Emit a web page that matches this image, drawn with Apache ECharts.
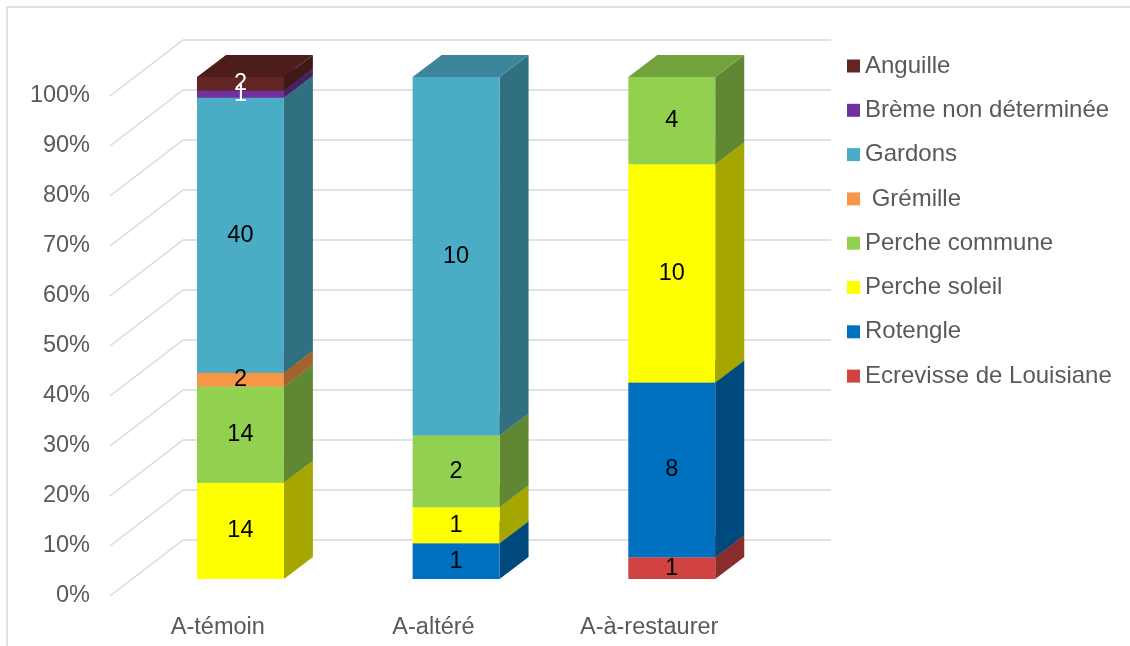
<!DOCTYPE html>
<html>
<head>
<meta charset="utf-8">
<script src="https://cdn.jsdelivr.net/npm/echarts@6/dist/echarts.min.js"></script>
<style>
  html, body { margin: 0; padding: 0; background: #fff; }
  #chart { width: 1130px; height: 646px; }
</style>
</head>
<body>
<div id="chart"></div>
<script>
// Sites sampled
const categories = ['A-témoin', 'A-altéré', 'A-à-restaurer'];

// Fish counts per site (stacking order: bottom to top)
const ecrevisse     = [0, 0, 1];
const rotengle      = [0, 1, 8];
const percheSoleil  = [14, 1, 10];
const percheCommune = [14, 2, 4];
const gremille      = [2, 0, 0];
const gardons       = [40, 10, 0];
const breme         = [1, 0, 0];
const anguille      = [2, 0, 0];

// Percent ticks on the value axis
const yTicks = [0, 10, 20, 30, 40, 50, 60, 70, 80, 90, 100];

const speciesList = [
  { name: 'Ecrevisse de Louisiane', values: ecrevisse,     color: '#D14343', label: '#000' },
  { name: 'Rotengle',               values: rotengle,      color: '#0070C0', label: '#000' },
  { name: 'Perche soleil',          values: percheSoleil,  color: '#FFFF00', label: '#000' },
  { name: 'Perche commune',         values: percheCommune, color: '#92D050', label: '#000' },
  { name: ' Grémille',              values: gremille,      color: '#F79646', label: '#000' },
  { name: 'Gardons',                values: gardons,       color: '#4BACC6', label: '#000' },
  { name: 'Brème non déterminée',   values: breme,         color: '#7030A0', label: '#fff' },
  { name: 'Anguille',               values: anguille,      color: '#632523', label: '#fff' }
];

const FONT = '"Liberation Sans", Arial, sans-serif';
const GRID_COLOR = '#D9D9D9';
const TEXT_COLOR = '#595959';
// oblique depth of a column and of the whole plot box
const BAR_DX = 29, BAR_DY = 22;
const WALL_DX = 73, WALL_DY = 56;

function shade(hex, k) {
  const n = parseInt(hex.slice(1), 16);
  const r = Math.round(((n >> 16) & 255) * k);
  const g = Math.round(((n >> 8) & 255) * k);
  const b = Math.round((n & 255) * k);
  return 'rgb(' + r + ',' + g + ',' + b + ')';
}

// totals per site, for the 100% stacking
const totals = categories.map((_, i) =>
  speciesList.reduce((s, sp) => s + sp.values[i], 0));

// cumulative percent ranges per species
const cum = categories.map(() => 0);
const stackRanges = speciesList.map(sp => {
  const rows = [];
  sp.values.forEach((v, i) => {
    const start = cum[i];
    const end = start + v / totals[i] * 100;
    cum[i] = end;
    if (v > 0) rows.push([i, start, end, v]);
  });
  return rows;
});

function columnRenderer(sp) {
  return function (params, api) {
    const cat = api.value(0);
    const lo = api.value(1);
    const hi = api.value(2);
    const val = api.value(3);
    const pBot = api.coord([cat, lo]);
    const pTop = api.coord([cat, hi]);
    const bw = api.size([1, 0])[0] * 0.403;
    const x0 = pBot[0] - bw / 2;
    const x1 = x0 + bw;
    const yb = pBot[1], yt = pTop[1];
    return {
      type: 'group',
      children: [
        {
          type: 'polygon',
          shape: { points: [[x1, yb], [x1 + BAR_DX, yb - BAR_DY], [x1 + BAR_DX, yt - BAR_DY], [x1, yt]] },
          style: { fill: shade(sp.color, 0.65) }
        },
        {
          type: 'polygon',
          shape: { points: [[x0, yt], [x1, yt], [x1 + BAR_DX, yt - BAR_DY], [x0 + BAR_DX, yt - BAR_DY]] },
          style: { fill: shade(sp.color, 0.78) }
        },
        {
          type: 'rect',
          shape: { x: x0, y: yt, width: bw, height: yb - yt },
          style: { fill: sp.color }
        },
        {
          type: 'text',
          x: (x0 + x1) / 2,
          y: (yt + yb) / 2,
          z2: 10,
          style: {
            text: String(val),
            fill: sp.label,
            font: '23.5px ' + FONT,
            align: 'center', verticalAlign: 'middle',
            textAlign: 'center', textVerticalAlign: 'middle'
          }
        }
      ]
    };
  };
}

const columnSeries = speciesList.map((sp, k) => ({
  type: 'custom',
  name: sp.name,
  xAxisIndex: 2,
  yAxisIndex: 2,
  itemStyle: { color: sp.color },
  data: stackRanges[k],
  encode: { x: 0, y: [1, 2] },
  renderItem: columnRenderer(sp),
  z: 5
}));

// receding lines on the side wall, one per tick
const wallSeries = {
  type: 'custom',
  xAxisIndex: 0,
  yAxisIndex: 0,
  silent: true,
  data: yTicks.map(t => [0, t]),
  encode: { x: 0, y: 1 },
  renderItem: function (params, api) {
    const y = api.coord([0, api.value(1)])[1];
    const x = params.coordSys.x;
    return {
      type: 'line',
      shape: { x1: x, y1: y, x2: x - WALL_DX, y2: y + WALL_DY },
      style: { stroke: GRID_COLOR, lineWidth: 1.5 }
    };
  },
  z: 1
};

const chart = echarts.init(document.getElementById('chart'), null, { renderer: 'canvas' });

chart.setOption({
  animation: false,
  backgroundColor: '#fff',
  textStyle: { fontFamily: FONT },
  graphic: [{
    type: 'rect',
    shape: { x: 7, y: 7, width: 1140, height: 660 },
    style: { fill: 'none', stroke: GRID_COLOR, lineWidth: 1.5 },
    silent: true
  }],
  legend: {
    orient: 'vertical',
    left: 842,
    top: 49,
    itemWidth: 13,
    itemHeight: 13,
    itemGap: 20.3,
    icon: 'rect',
    data: ['Anguille', 'Brème non déterminée', 'Gardons', ' Grémille',
           'Perche commune', 'Perche soleil', 'Rotengle', 'Ecrevisse de Louisiane'],
    textStyle: { color: TEXT_COLOR, fontSize: 24, lineHeight: 24, fontFamily: FONT }
  },
  grid: [
    // back wall
    { left: 183, top: 40, width: 648, height: 500 },
    // front plane (axis labels)
    { left: 110, top: 96, width: 647, height: 500 },
    // column front faces
    { left: 132.6, top: 77, width: 647, height: 502 }
  ],
  xAxis: [
    { gridIndex: 0, type: 'category', data: categories, show: false },
    {
      gridIndex: 1, type: 'category', data: categories,
      axisLine: { show: false }, axisTick: { show: false },
      axisLabel: { color: TEXT_COLOR, fontSize: 23.5, margin: 20, fontFamily: FONT }
    },
    { gridIndex: 2, type: 'category', data: categories, show: false }
  ],
  yAxis: [
    {
      gridIndex: 0, type: 'value', min: 0, max: 100, interval: 10,
      axisLabel: { show: false }, axisLine: { show: false }, axisTick: { show: false },
      splitLine: { lineStyle: { color: GRID_COLOR, width: 1.5 } }
    },
    {
      gridIndex: 1, type: 'value', min: 0, max: 100, interval: 10,
      axisLine: { show: false }, axisTick: { show: false }, splitLine: { show: false },
      axisLabel: { color: TEXT_COLOR, fontSize: 23.5, margin: 20, formatter: '{value}%', fontFamily: FONT }
    },
    { gridIndex: 2, type: 'value', min: 0, max: 100, show: false, splitLine: { show: false } }
  ],
  series: [wallSeries].concat(columnSeries)
});
</script>
</body>
</html>
